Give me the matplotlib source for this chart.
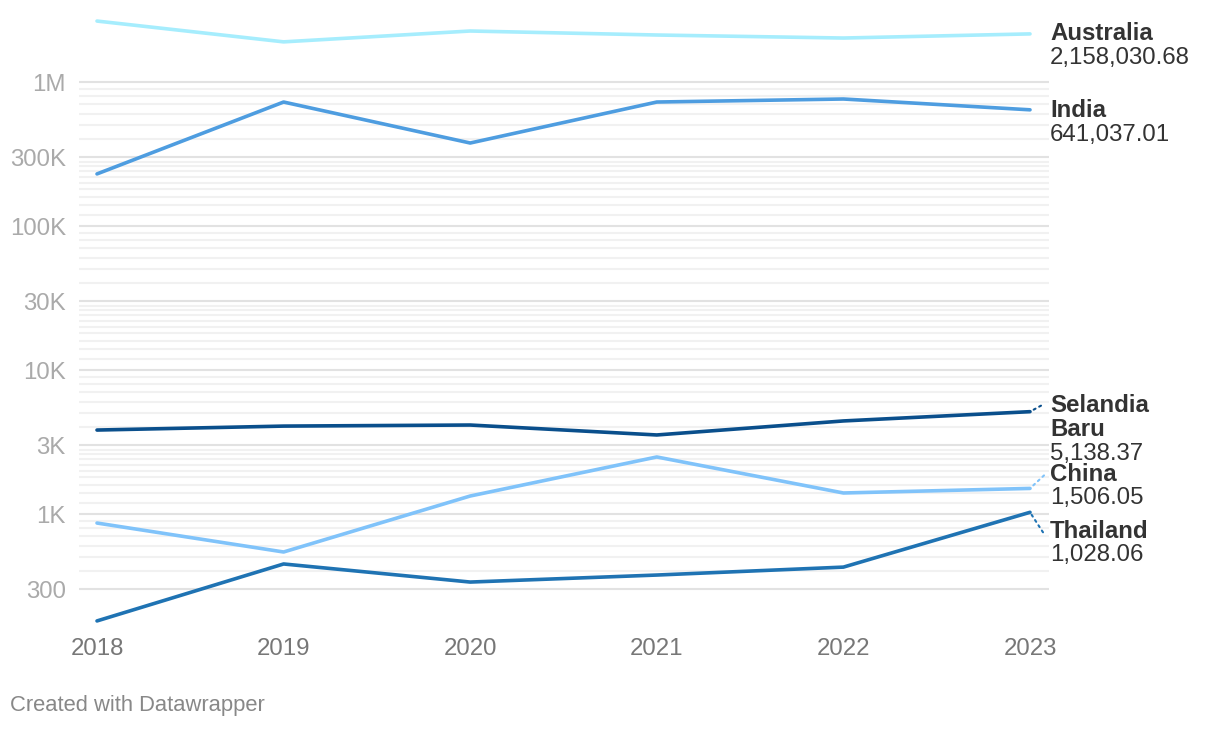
import numpy as np
import matplotlib
matplotlib.use('Agg')
import matplotlib.pyplot as plt
from matplotlib.ticker import FixedLocator, FixedFormatter, NullLocator

plt.rcParams['font.family'] = ['Liberation Sans', 'DejaVu Sans']

# Data
years = [2018, 2019, 2020, 2021, 2022, 2023]
australia = [2650000, 1900000, 2260000, 2120000, 2020000, 2158030.68]
india = [230000, 726000, 377000, 726000, 762000, 641037.01]
selandia = [3830, 4080, 4150, 3540, 4430, 5138.37]
china = [866, 545, 1334, 2490, 1400, 1506.05]
thailand = [181, 450, 337, 377, 428, 1028.06]

y_ticks = [300, 1000, 3000, 10000, 30000, 100000, 300000, 1000000]
y_labels = ['300', '1K', '3K', '10K', '30K', '100K', '300K', '1M']

series = [
    # name lines, values, value label, colour, label dy (px), connector end (dx, dy)
    (['Australia'], australia, '2,158,030.68', '#a6edfd', 0, None),
    (['India'], india, '641,037.01', '#4e9de0', -1, None),
    (['Selandia', 'Baru'], selandia, '5,138.37', '#0a4f8c', 6, (11, 6)),
    (['China'], china, '1,506.05', '#80c3fa', 14, (14, 13)),
    (['Thailand'], thailand, '1,028.06', '#1f73b3', -19, (13, -20)),
]

W, H = 1220, 730
fig = plt.figure(figsize=(W / 100, H / 100), dpi=100)
ax = fig.add_axes([79 / W, (H - 635) / H, (1049 - 79) / W, 625 / H])

ax.set_yscale('log')
ax.set_ylim(10 ** 2.16, 10 ** 6.5)
ax.set_xlim(2018 - 18 / 186.6, 2023 + 19 / 186.6)

# gridlines: major at 1x and 3x, minor in between (300 .. 1M)
minor = []
for dec in [100, 1000, 10000, 100000]:
    if dec > 100:
        minor += [m * dec for m in [1.2, 1.4, 1.6, 1.8, 2.0, 2.2, 2.4, 2.6, 2.8]]
    minor += [m * dec for m in [4, 5, 6, 7, 8, 9]]
for t in minor:
    ax.axhline(t, color='#f1f1f1', lw=1.5, zorder=0)
for t in y_ticks:
    ax.axhline(t, color='#e2e2e2', lw=1.5, zorder=1)

for names, vals, vlabel, col, dy, conn in series:
    ax.plot(years, vals, color=col, lw=2.6, solid_capstyle='round',
            solid_joinstyle='round', zorder=3)
    last = vals[-1]
    if conn is not None:
        ax.annotate('', xy=(years[-1], last), xytext=conn, textcoords='offset pixels',
                    arrowprops=dict(arrowstyle='-', linestyle=(0, (1, 2)), color=col,
                                    lw=1.5, shrinkA=0, shrinkB=0))
    for i, nm in enumerate(names):
        ax.annotate(nm, xy=(years[-1], last), xytext=(20, dy - 24 * i),
                    textcoords='offset pixels', va='center', ha='left',
                    fontsize=17.3, fontweight='bold', color='#333333',
                    annotation_clip=False)
    ax.annotate(vlabel, xy=(years[-1], last), xytext=(20, dy - 24 * len(names)),
                textcoords='offset pixels', va='center', ha='left',
                fontsize=17.3, color='#333333', annotation_clip=False)

ax.yaxis.set_major_locator(FixedLocator(y_ticks))
ax.yaxis.set_major_formatter(FixedFormatter(y_labels))
ax.yaxis.set_minor_locator(NullLocator())
ax.set_xticks(years)
ax.set_xticklabels([str(y) for y in years])
ax.tick_params(axis='y', length=0, pad=9.5, labelsize=17.3, labelcolor='#aaaaaa')
ax.tick_params(axis='x', length=0, pad=2.5, labelsize=17.3, labelcolor='#777777')
for s in ax.spines.values():
    s.set_visible(False)

fig.text(10 / W, 1 - 706 / H, 'Created with Datawrapper', fontsize=15.8,
         color='#888888', va='center', ha='left')

fig.savefig('out.png', dpi=100, facecolor='white')
